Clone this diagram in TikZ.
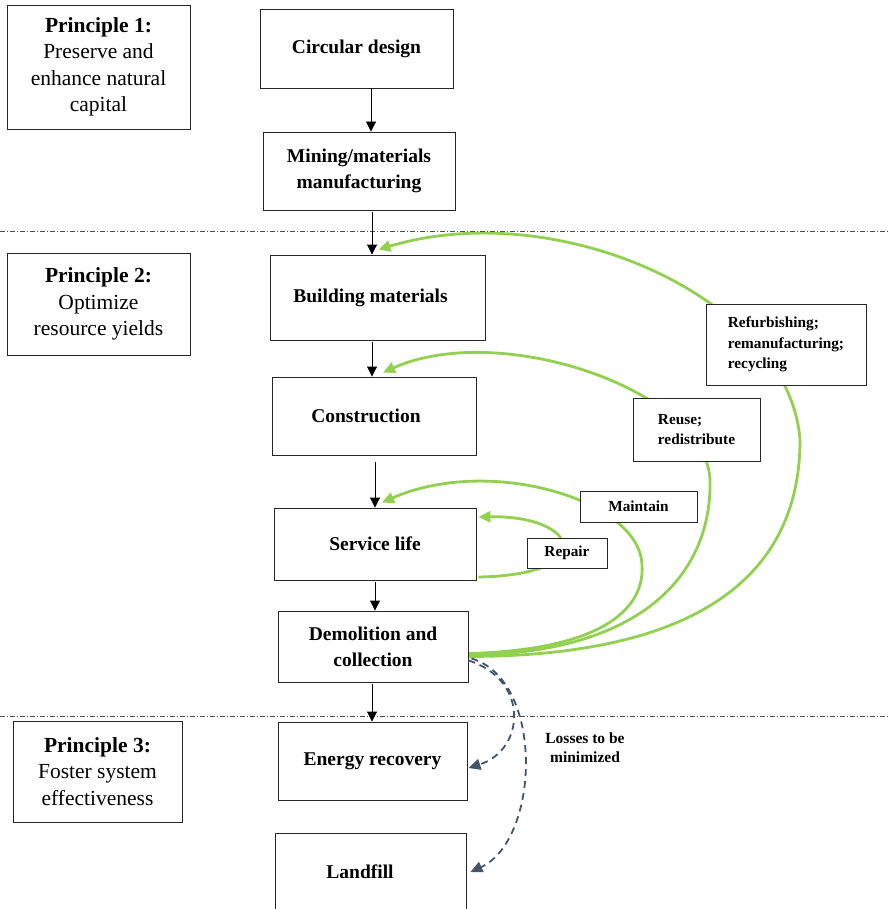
\documentclass[tikz,border=0pt]{standalone}
\usepackage{fontspec}
\setmainfont{Liberation Serif}
\usetikzlibrary{arrows.meta,backgrounds}
\definecolor{cgreen}{HTML}{92D050}
\definecolor{cdash}{HTML}{44546A}
\begin{document}
\begin{tikzpicture}[x=1pt,y=-1pt,
 box/.style={draw=black!85,line width=0.9pt,fill=white,inner sep=0pt,align=center},
 mainbox/.style={box,font=\fontsize{19.5}{26}\selectfont\bfseries},
 pbox/.style={box,font=\fontsize{21.5}{26.5}\selectfont},
 lbl/.style={box,font=\fontsize{15.3}{20.5}\selectfont\bfseries},
 flow/.style={line width=0.9pt,-{Triangle[length=10pt,width=10pt]}},
 loopline/.style={cgreen,line width=2.8pt,-{Triangle[length=12pt,width=11pt]}},
 loss/.style={cdash,line width=1.8pt,dash pattern=on 7pt off 5pt,-{Triangle[length=12pt,width=11pt]}},
 sepline/.style={black!70,line width=0.8pt,dash pattern=on 5pt off 2pt on 1pt off 2pt}]
\useasboundingbox (0,0) rectangle (889,909);

% separators
\draw[sepline] (0,231) -- (889,231);
\draw[sepline] (0,716) -- (889,716);

% principle boxes
\node[pbox,minimum width=183,minimum height=124] (p1) at (98.5,67) {\textbf{Principle 1:}\\Preserve and\\enhance natural\\capital};
\node[pbox,minimum width=183,minimum height=102] (p2) at (98.5,304) {\textbf{Principle 2:}\\Optimize\\resource yields};
\node[pbox,minimum width=169,minimum height=101] (p3) at (97.5,771.5) {\textbf{Principle 3:}\\Foster system\\effectiveness};

% main flow boxes
\node[mainbox,minimum width=193,minimum height=79] (circ) at (356.5,48.5) {Circular design};
\node[mainbox,minimum width=192,minimum height=78] (mine) at (359,171) {Mining/materials\\manufacturing};
\node[mainbox,minimum width=215,minimum height=85] (bm) at (377.5,297.5) {Building materials\hspace*{14pt}};
\node[mainbox,minimum width=204,minimum height=78] (cons) at (374,416) {Construction\hspace*{16pt}};
\node[mainbox,minimum width=202,minimum height=72] (serv) at (375,544) {Service life};
\node[mainbox,minimum width=190,minimum height=71] (demo) at (373,646.5) {Demolition and\\collection};
\node[mainbox,minimum width=189,minimum height=78] (energy) at (372.5,761) {Energy recovery};
\node[mainbox,draw=none,fill=none,minimum width=190,minimum height=76] (land) at (371,872) {Landfill\hspace*{22pt}};
\draw[black!85,line width=0.9pt] (land.south west) -- (land.north west) -- (land.north east) -- (land.south east);

% loop labels
\node[lbl,minimum width=160,minimum height=81,align=left] (refurb) at (786,344.5) {Refurbishing;\\remanufacturing;\\recycling};
\node[lbl,minimum width=127,minimum height=63,align=left] (reuse) at (696.5,429.5) {Reuse;\\redistribute};
\node[lbl,minimum width=117,minimum height=31] (maint) at (638.5,506.5) {Maintain};
\node[lbl,minimum width=80,minimum height=30] (repair) at (567,553) {Repair};
\node[font=\fontsize{15.5}{19}\selectfont\bfseries,align=center] (losses) at (585,748) {Losses to be\\minimized};

% main flow arrows
\coordinate (a1) at (371,0);
\coordinate (a2) at (372,0);
\coordinate (a4) at (375,0);
\draw[flow] (circ.south -| a1) -- (mine.north -| a1);
\draw[flow] ([yshift=-2pt]mine.south -| a2) -- (bm.north -| a2);
\draw[flow] ([yshift=-2pt]bm.south -| a2) -- (cons.north -| a2);
\draw[flow] ([yshift=-7pt]cons.south -| a4) -- (serv.north -| a4);
\draw[flow] ([yshift=-2pt]serv.south -| a4) -- (demo.north -| a4);
\draw[flow] ([yshift=-2pt]demo.south -| a2) -- (energy.north -| a2);

% green loops (behind label boxes)
\begin{scope}[on background layer]
\draw[loopline] ([yshift=-10pt]demo.east) .. controls (720,656) and (800,560) .. (800,440)
  .. controls (790,300) and (560,195) .. ([xshift=1pt,yshift=5pt]bm.north);
\draw[loopline] ([yshift=-9pt]demo.east) .. controls (660,652) and (712,560) .. (710,480)
  .. controls (706,390) and (500,320) .. ([xshift=9pt,yshift=4pt]cons.north);
\draw[loopline] ([yshift=-7pt]demo.east) .. controls (600,650) and (645,610) .. (642,565)
  .. controls (640,500) and (490,455) .. ([xshift=7pt,yshift=5pt]serv.north);
\draw[loopline] ([xshift=2pt,yshift=-33pt]serv.east) .. controls (600,575) and (580,515) .. ([xshift=2pt,yshift=27pt]serv.east);
\end{scope}

% losses
\draw[loss] ([yshift=-14pt]demo.east) .. controls (530,680) and (525,750) .. ([xshift=1pt,yshift=-7pt]energy.east);
\draw[loss] ([xshift=3pt,yshift=-12pt]demo.east) .. controls (545,680) and (540,840) .. ([xshift=4pt]land.east);
\end{tikzpicture}
\end{document}
